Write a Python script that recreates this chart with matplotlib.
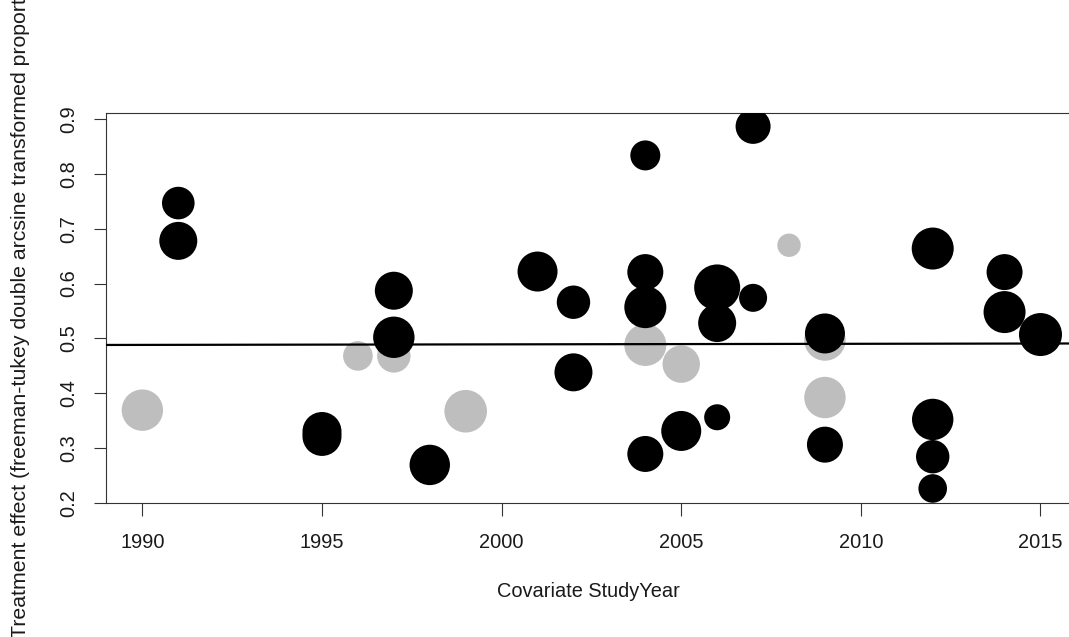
import numpy as np
import matplotlib
matplotlib.use("Agg")
import matplotlib.pyplot as plt

plt.rcParams['font.family'] = ['Liberation Sans', 'DejaVu Sans']

# studies drawn in grey (drawn first, below the regression line)
grey_year = [1990, 1996, 1997, 1999, 2004, 2005, 2008, 2009, 2009]
grey_effect = [0.369, 0.468, 0.468, 0.367, 0.488, 0.453, 0.670, 0.497, 0.392]
grey_weight = [2.07, 1.48, 1.67, 2.13, 2.10, 1.87, 1.17, 2.07, 2.07]

# studies drawn in black
black_year = [1991, 1991, 1995, 1995, 1997, 1997, 1998, 2001, 2002, 2002,
              2004, 2004, 2004, 2004, 2005, 2006, 2006, 2006, 2007, 2007,
              2009, 2009, 2012, 2012, 2012, 2012, 2014, 2014, 2015]
black_effect = [0.747, 0.678, 0.330, 0.321, 0.502, 0.587, 0.269, 0.622, 0.566, 0.438,
                0.834, 0.621, 0.557, 0.289, 0.331, 0.593, 0.528, 0.356, 0.887, 0.574,
                0.509, 0.306, 0.664, 0.352, 0.284, 0.226, 0.621, 0.548, 0.507]
black_weight = [1.63, 1.90, 1.95, 1.95, 2.07, 1.90, 2.02, 2.00, 1.67, 1.90,
                1.50, 1.80, 2.10, 1.80, 2.00, 2.30, 1.90, 1.30, 1.75, 1.40,
                2.00, 1.80, 2.10, 2.07, 1.67, 1.43, 1.80, 2.10, 2.15]

# meta-regression line: intercept at 1989 and slope per year
reg_intercept = 0.4880
reg_slope = 0.0001

x_lim = (1988.98, 2015.88)
y_lim = (0.2, 0.912)


def bubble_size(w):
    # weight -> marker area in points^2 (diameter ~ 20 px per unit)
    return (np.array(w) * 20 * 0.72) ** 2


fig = plt.figure(figsize=(10.69, 6.37), dpi=100)
ax = fig.add_axes([0.0989, 0.2108, 0.904, 0.6123])

ax.scatter(grey_year, grey_effect, s=bubble_size(grey_weight), color='#BEBEBE',
           edgecolors='none', zorder=2)

xs = np.array(x_lim)
ax.plot(xs, reg_intercept + reg_slope * (xs - 1989), color='black', lw=1.6, zorder=3)

ax.scatter(black_year, black_effect, s=bubble_size(black_weight), color='black',
           edgecolors='none', zorder=4)

ax.set_xlim(*x_lim)
ax.set_ylim(*y_lim)
ax.set_xticks([1990, 1995, 2000, 2005, 2010, 2015])
ax.set_yticks([0.2, 0.3, 0.4, 0.5, 0.6, 0.7, 0.8, 0.9])
ax.set_yticklabels(['0.2', '0.3', '0.4', '0.5', '0.6', '0.7', '0.8', '0.9'])

for sp in ax.spines.values():
    sp.set_linewidth(0.8)
    sp.set_color('#333333')

ax.tick_params(axis='both', length=9, width=0.8, color='#333333', labelsize=14.4,
               labelcolor='#1a1a1a')
ax.tick_params(axis='x', pad=12.5)
ax.tick_params(axis='y', pad=11, labelrotation=90)
for lab in ax.get_yticklabels():
    lab.set_va('center')

ax.set_xlabel('Covariate StudyYear', fontsize=14.4, color='#1a1a1a')
ax.xaxis.set_label_coords(0.5, -0.228)
ax.xaxis.label.set_va('center')
# the long y label runs past the figure edges, as in the original R output
ax.set_ylabel('Treatment effect (freeman-tukey double arcsine transformed proportion)',
              fontsize=15.3, color='#1a1a1a')
ax.yaxis.set_label_coords(-0.0885, 0.52)
ax.yaxis.label.set_va('center')

fig.savefig('out.png', dpi=100)
